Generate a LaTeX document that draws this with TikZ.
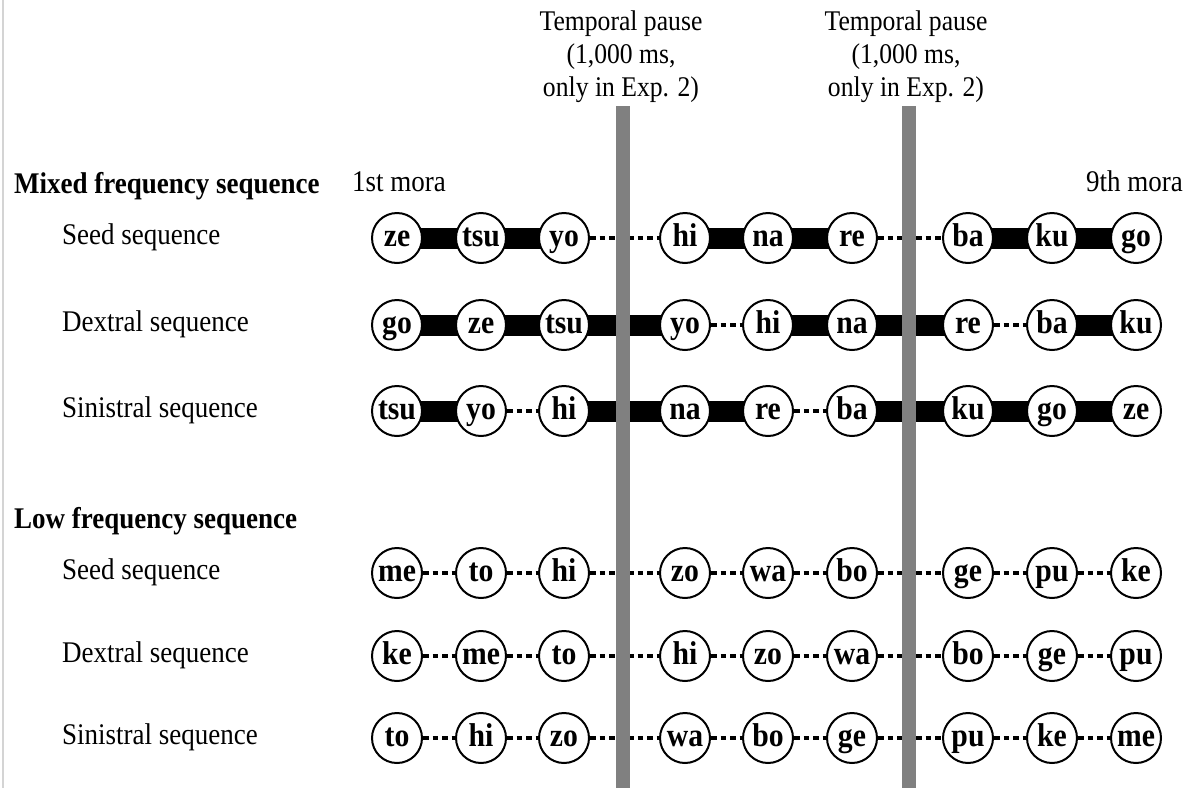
\documentclass[tikz,border=0pt]{standalone}
\usepackage{fontspec}
\setmainfont{Liberation Serif}[FakeStretch=0.9]
\pgfdeclarelayer{bg}
\pgfsetlayers{bg,main}
\definecolor{pausegray}{HTML}{808080}
\definecolor{edgegray}{HTML}{D4D4D4}

\tikzset{
  x=1pt, y=-1pt,
  mora/.style={circle, draw, line width=2pt, fill=white, minimum size=50pt,
    inner sep=0pt, text height=16pt, text depth=0pt,
    font=\bfseries\fontsize{33}{33}\selectfont},
  linkt/.style={line width=21pt, shorten <=-6pt, shorten >=-6pt},
  linkd/.style={line width=4pt, dash pattern=on 5.5pt off 4pt},
  lab/.style={anchor=base west, inner sep=0pt, font=\fontsize{30}{30}\selectfont},
  head/.style={anchor=base west, inner sep=0pt, font=\bfseries\fontsize{30}{30}\selectfont},
  pauselab/.style={align=center, anchor=north, inner sep=0pt,
    font=\fontsize{28.5}{33}\selectfont},
}

% one row of morae: name, y, syllables, link types (t = thick, d = dotted)
\newcommand\morarow[4]{%
  \foreach \s [count=\i] in {#3} {
    \pgfmathsetmacro\xx{{397,481,564,685,768,852,968,1052,1136}[\i-1]}
    \node[mora] (#1-\i) at (\xx,#2) {\s};
  }
  \begin{pgfonlayer}{bg}
  \foreach \t [count=\i] in {#4} {
    \pgfmathtruncatemacro\j{\i+1}
    \draw[link\t] (#1-\i) -- (#1-\j);
  }
  \end{pgfonlayer}
}

\begin{document}
\begin{tikzpicture}
\useasboundingbox (0,0) rectangle (1194,788);
\draw[edgegray, line width=2pt] (2.5,0) -- (2.5,788);

% row labels
\node[head] (mixhead) at (14,193) {Mixed frequency sequence};
\node[lab] (mixseed) at (62,244) {Seed sequence};
\node[lab] (mixdex) at (62,331) {Dextral sequence};
\node[lab] (mixsin) at (62,417) {Sinistral sequence};
\node[head] (lowhead) at (14,528) {Low frequency sequence};
\node[lab] (lowseed) at (62,579) {Seed sequence};
\node[lab] (lowdex) at (62,662) {Dextral sequence};
\node[lab] (lowsin) at (62,744) {Sinistral sequence};

\node[lab] (first) at (352,191) {1st mora};
\node[lab, anchor=base east] (ninth) at (1183,191) {9th mora};

% mixed frequency sequences
\morarow{ms}{238}{ze,tsu,yo,hi,na,re,ba,ku,go}{t,t,d,t,t,d,t,t}
\morarow{md}{325}{go,ze,tsu,yo,hi,na,re,ba,ku}{t,t,t,d,t,t,d,t}
\morarow{mn}{411}{tsu,yo,hi,na,re,ba,ku,go,ze}{t,d,t,t,d,t,t,t}

% low frequency sequences
\morarow{ls}{573}{me,to,hi,zo,wa,bo,ge,pu,ke}{d,d,d,d,d,d,d,d}
\morarow{ld}{656}{ke,me,to,hi,zo,wa,bo,ge,pu}{d,d,d,d,d,d,d,d}
\morarow{ln}{738}{to,hi,zo,wa,bo,ge,pu,ke,me}{d,d,d,d,d,d,d,d}

% temporal pauses
\fill[pausegray] (616,106) rectangle (630,788);
\fill[pausegray] (902,106) rectangle (916,788);
\node[pauselab] (pause1) at (621,11) {Temporal pause\\(1,000 ms,\\only in Exp. 2)};
\node[pauselab] (pause2) at (906,11) {Temporal pause\\(1,000 ms,\\only in Exp. 2)};
\end{tikzpicture}
\end{document}
